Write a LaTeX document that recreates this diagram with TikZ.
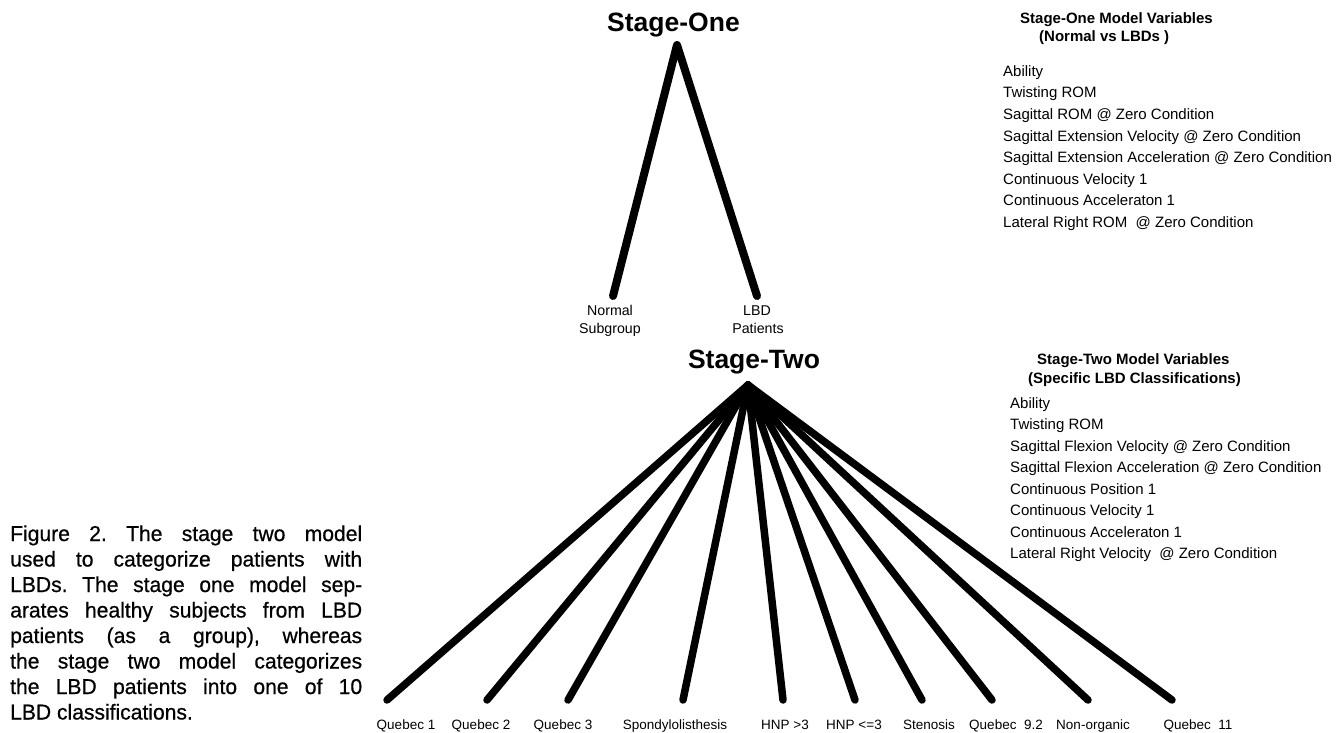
\documentclass[tikz,border=0pt]{standalone}
\usepackage{fontspec}
\setmainfont{Liberation Sans}
\newfontfamily\capfont[FakeStretch=0.98,FakeBold=0.6]{Liberation Sans}
\frenchspacing
\begin{document}
\begin{tikzpicture}[x=1pt,y=-1pt,
  title/.style={font=\fontsize{26.5}{30}\selectfont\bfseries, inner sep=0, anchor=base},
  grp/.style={font=\fontsize{14.2}{17}\selectfont, inner sep=0, anchor=base},
  lbl/.style={font=\fontsize{13.5}{16}\selectfont, inner sep=0, anchor=base},
  var/.style={font=\fontsize{15}{18}\selectfont, inner sep=0, anchor=base west},
  varhead/.style={font=\fontsize{15}{18}\selectfont\bfseries, inner sep=0, anchor=base west},
  capline/.style={font=\capfont\fontsize{21.5}{24}\selectfont, inner sep=0, anchor=base west},
  branchone/.style={line width=8pt, line join=round, line cap=round},
  branchtwo/.style={line width=7.5pt, line cap=round}]
\useasboundingbox (0,0) rectangle (1343,733);
\fill[white] (0,0) rectangle (1343,733);

% Stage one
\node[title] (s1) at (673.5,32) {Stage-One};
\coordinate (a1) at (677,45);
\coordinate (e1) at (613,296);
\coordinate (e2) at (757,296);
\draw[branchone] (e1) -- (a1) -- (e2);
\node[grp] (normal) at (610,315) {Normal};
\node[grp] (subgroup) at (610,333) {Subgroup};
\node[grp] (lbd) at (757,315) {LBD};
\node[grp] (patients) at (758,333) {Patients};

% Stage two
\node[title] (s2) at (754,368) {Stage-Two};
\coordinate (a2) at (748,385);
\foreach \x/\n in {387/q1,487/q2,568/q3,683/sp,783/ha,855/hb,922/st,992/q9,1088/no,1172/q11}{
  \coordinate (\n) at (\x,700);
  \draw[branchtwo] (a2) -- (\n);
}
\node[lbl] (lq1) at (406,729) {Quebec 1};
\node[lbl] (lq2) at (481,729) {Quebec 2};
\node[lbl] (lq3) at (563,729) {Quebec 3};
\node[lbl] (lsp) at (675,729) {Spondylolisthesis};
\node[lbl] (lha) at (785,729) {HNP >3};
\node[lbl] (lhb) at (854,729) {HNP <=3};
\node[lbl] (lst) at (929,729) {Stenosis};
\node[lbl] (lq9) at (1006,729) {Quebec\ \ 9.2};
\node[lbl] (lno) at (1093,729) {Non-organic};
\node[lbl] (lq11) at (1198,729) {Quebec\ \ 11};

% Stage one variables
\node[varhead] (h1a) at (1020,23.5) {Stage-One Model Variables};
\node[varhead] (h1b) at (1039,41.5) {(Normal vs LBDs )};
\foreach \t [count=\i from 0] in {Ability,Twisting ROM,Sagittal ROM @ Zero Condition,Sagittal Extension Velocity @ Zero Condition,Sagittal Extension Acceleration @ Zero Condition,Continuous Velocity 1,Continuous Acceleraton 1,Lateral Right ROM\ \ @ Zero Condition}{
  \node[var] (v1-\i) at (1003,{76.5+21.5*\i}) {\t};
}

% Stage two variables
\node[varhead] (h2a) at (1037,364) {Stage-Two Model Variables};
\node[varhead] (h2b) at (1028,383) {(Specific LBD Classifications)};
\foreach \t [count=\i from 0] in {Ability,Twisting ROM,Sagittal Flexion Velocity @ Zero Condition,Sagittal Flexion Acceleration @ Zero Condition,Continuous Position 1,Continuous Velocity 1,Continuous Acceleraton 1,Lateral Right Velocity\ \ @ Zero Condition}{
  \node[var] (v2-\i) at (1010,{408+21.5*\i}) {\t};
}

% Caption
\node[capline] (c1) at (10,541) {\makebox[352pt][s]{Figure 2. The stage two model}};
\node[capline] (c2) at (10,566.5) {\makebox[352pt][s]{used to categorize patients with}};
\node[capline] (c3) at (10,592) {\makebox[352pt][s]{LBDs. The stage one model sep-}};
\node[capline] (c4) at (10,617.5) {\makebox[352pt][s]{arates healthy subjects from LBD}};
\node[capline] (c5) at (10,643) {\makebox[352pt][s]{patients (as a group), whereas}};
\node[capline] (c6) at (10,668.5) {\makebox[352pt][s]{the stage two model categorizes}};
\node[capline] (c7) at (10,694) {\makebox[352pt][s]{the LBD patients into one of 10}};
\node[capline] (c8) at (10,719.5) {LBD classifications.};
\end{tikzpicture}
\end{document}
